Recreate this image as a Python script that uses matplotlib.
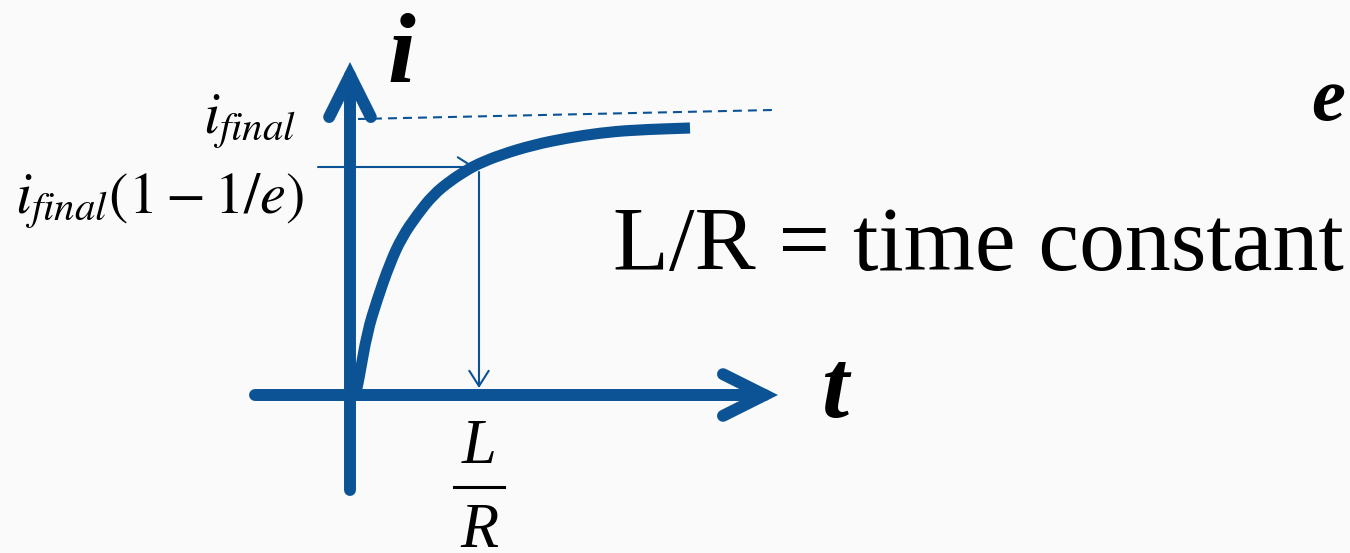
import matplotlib.pyplot as plt
from matplotlib.path import Path
from matplotlib.patches import PathPatch

plt.rcParams['font.family'] = ['Liberation Serif', 'DejaVu Serif']
plt.rcParams['mathtext.fontset'] = 'stix'

# rise of the current (origin where the axes cross)
t_curve = [6, 9, 17, 27, 40, 52, 67, 83, 100, 117, 128, 150, 183, 217, 250, 283, 340]
i_curve = [2, 16, 62, 95, 132, 158, 180, 200, 214, 225, 231, 240, 250, 257, 262, 265, 267]

tau = 129            # L/R on the t axis
i_tau = 228          # i_final(1-1/e) level
t_final = [8, 423]   # dashed asymptote
i_final = [276, 285]

t_axis = [-95, 428]
i_axis = [-95, 333]

blue = '#0b5395'

fig = plt.figure(figsize=(13.5, 5.53), dpi=100)
fig.patch.set_facecolor('#fafafa')
ax = fig.add_axes([0, 0, 1, 1])
ax.set_xlim(-350, 1000)
ax.set_ylim(-158, 395)
ax.axis('off')

# thick axes with open arrow heads
big = dict(arrowstyle='->,head_length=30,head_width=15', lw=8.6, color=blue,
           shrinkA=0, shrinkB=0, mutation_scale=1, joinstyle='miter', capstyle='round')
ax.annotate('', xy=(t_axis[1], 0), xytext=(t_axis[0], 0), arrowprops=big)
ax.annotate('', xy=(0, i_axis[1]), xytext=(0, i_axis[0]), arrowprops=big)

# dashed final value
ax.plot(t_final, i_final, color=blue, lw=1.5, dashes=(4.3, 2.9))

# the curve, drawn as a smooth path through the read points
pts = list(zip(t_curve, i_curve))
verts = [pts[0]]
codes = [Path.MOVETO]
for k in range(1, len(pts) - 1):
    mid = ((pts[k][0] + pts[k + 1][0]) / 2, (pts[k][1] + pts[k + 1][1]) / 2)
    verts += [pts[k], mid]
    codes += [Path.CURVE3, Path.CURVE3]
verts.append(pts[-1])
codes.append(Path.LINETO)
ax.add_patch(PathPatch(Path(verts, codes), fill=False, edgecolor=blue, lw=8,
                       capstyle='butt', zorder=3))

# thin guide arrows
thin = dict(arrowstyle='->,head_length=11,head_width=7', lw=1.5, color=blue,
            shrinkA=0, shrinkB=0, mutation_scale=1)
ax.annotate('', xy=(tau - 4, i_tau), xytext=(-32, i_tau), arrowprops=thin)
ax.annotate('', xy=(tau, 7), xytext=(tau, i_tau - 5), arrowprops=thin)

# labels
ax.text(51, 313, 'i', fontsize=72, style='italic', weight='bold', ha='center', va='baseline')
ax.text(485, -22, 't', fontsize=70, style='italic', weight='bold', ha='center', va='baseline')
ax.text(961, 275, 'e', fontsize=55, style='italic', weight='bold', ha='left', va='baseline')
ax.text(-54, 262, r'$i_{final}$', fontsize=42, ha='right', va='baseline')
ax.text(-46, 182, r'$i_{final}(1-1/e)$', fontsize=42, ha='right', va='baseline')

ax.text(tau, -68, 'L', fontsize=45, style='italic', ha='center', va='baseline')
ax.plot([tau - 25, tau + 25], [-92, -92], color='black', lw=2.2)
ax.text(tau, -152, 'R', fontsize=45, style='italic', ha='center', va='baseline')

ax.text(263, 125, 'L/R = time constant', fontsize=66, ha='left', va='baseline')

fig.savefig('out.png', dpi=100, facecolor=fig.get_facecolor())
